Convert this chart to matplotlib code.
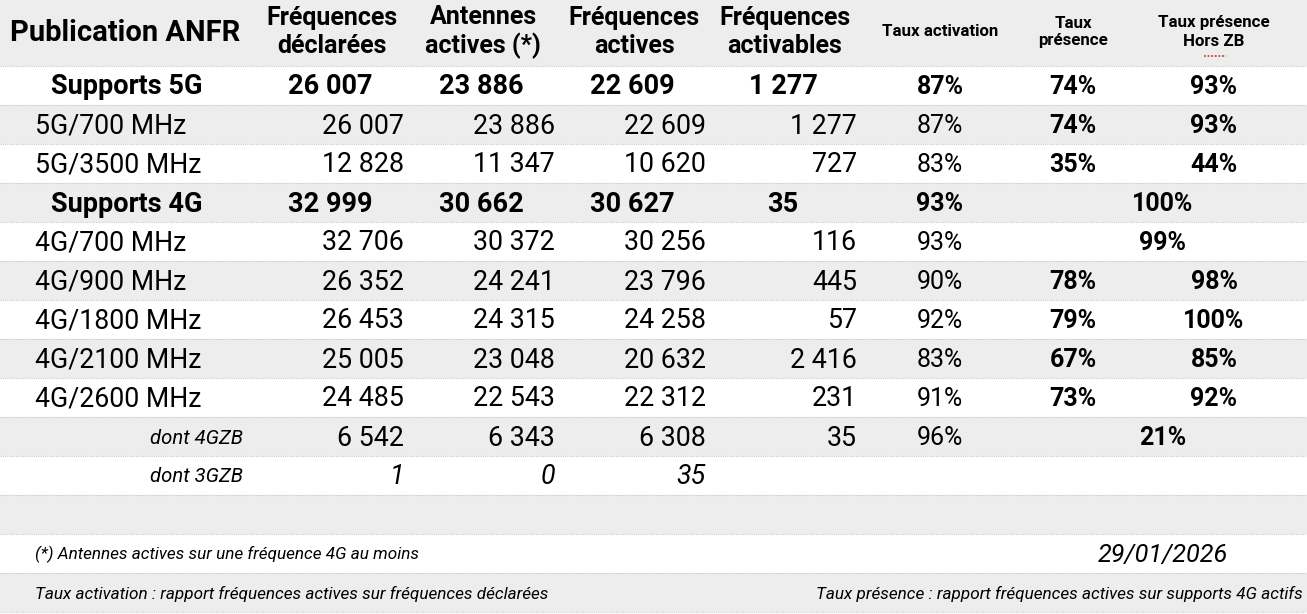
import matplotlib.pyplot as plt
import matplotlib.patches as mpatches

plt.rcParams['font.family'] = ['Roboto', 'DejaVu Sans']

# --- data ---
row_labels = ['Supports 5G', '5G/700 MHz', '5G/3500 MHz', 'Supports 4G', '4G/700 MHz',
              '4G/900 MHz', '4G/1800 MHz', '4G/2100 MHz', '4G/2600 MHz', 'dont 4GZB', 'dont 3GZB']
row_kind = ['total', 'band', 'band', 'total', 'band', 'band', 'band', 'band', 'band', 'sub', 'sub']
freq_declarees = [26007, 26007, 12828, 32999, 32706, 26352, 26453, 25005, 24485, 6542, 1]
antennes_actives = [23886, 23886, 11347, 30662, 30372, 24241, 24315, 23048, 22543, 6343, 0]
freq_actives = [22609, 22609, 10620, 30627, 30256, 23796, 24258, 20632, 22312, 6308, 35]
freq_activables = [1277, 1277, 727, 35, 116, 445, 57, 2416, 231, 35, None]
taux_activation = [87, 87, 83, 93, 93, 90, 92, 83, 91, 96, None]
taux_presence = [74, 74, 35, None, None, 78, 79, 67, 73, None, None]
taux_hors_zb = [93, 93, 44, 100, 99, 98, 100, 85, 92, 21, None]
# rows where presence / hors ZB share one merged cell
merged = [False, False, False, True, True, False, False, False, False, True, False]

headers = ['Publication ANFR', 'Fréquences\ndéclarées', 'Antennes\nactives (*)',
           'Fréquences\nactives', 'Fréquences\nactivables', 'Taux activation',
           'Taux\nprésence', 'Taux présence\nHors ZB']
note_star = '(*) Antennes actives sur une fréquence 4G au moins'
note_date = '29/01/2026'
note_activation = 'Taux activation : rapport fréquences actives sur fréquences déclarées'
note_presence = 'Taux présence : rapport fréquences actives sur supports 4G actifs'

# --- layout (pixels) ---
W, H = 1307, 614
header_h = 66
row_h = 39
gray = '#ededed'
col_center = [127, 330, 481, 632, 783, 940, 1073, 1214]
col_right = [None, 404, 555, 706, 857]
label_left = 35
sub_right = 243
merged_center = 1163
fs_num = 19.3
fs_pct = 18


def fmt(v):
    return f'{v:,}'.replace(',', ' ')


fig = plt.figure(figsize=(W / 100, H / 100), dpi=100)
ax = fig.add_axes([0, 0, 1, 1])
ax.set_xlim(0, W)
ax.set_ylim(H, 0)
ax.axis('off')

n_rows = len(row_labels) + 3
tops = [0] + [header_h + i * row_h for i in range(n_rows)]
heights = [header_h] + [row_h] * n_rows
for i, (t, h) in enumerate(zip(tops, heights)):
    ax.add_patch(mpatches.Rectangle((0, t), W, h, color=gray if i % 2 == 0 else 'white', lw=0))
    if i > 0:
        ax.plot([0, W], [t, t], color='#c9c9c9', lw=0.8, ls=(0, (1, 1)))
ax.plot([0, W], [tops[-1] + row_h] * 2, color='#c9c9c9', lw=0.8, ls=(0, (1, 1)))

# header
ax.text(10, 33, headers[0], fontsize=21, fontweight='bold', ha='left', va='center')
for j in range(1, 5):
    ax.text(col_center[j] + 2, 32, headers[j], fontsize=18, fontweight='bold', ha='center',
            va='center', linespacing=1.2)
for j in range(5, 8):
    ax.text(col_center[j], 32, headers[j], fontsize=12.2, fontweight='bold', ha='center',
            va='center', linespacing=1.25)
# spell-check squiggle under "ZB"
ax.plot([1204, 1226], [56, 56], color='#d04040', lw=1.3, ls=(0, (1, 1)))

# body
for i, lab in enumerate(row_labels):
    yc = header_h + i * row_h + row_h / 2 + 1.5
    kind = row_kind[i]
    if kind == 'total':
        ax.text(col_center[0], yc, lab, fontsize=19.5, fontweight='bold', ha='center', va='center')
    elif kind == 'band':
        ax.text(label_left, yc, lab, fontsize=19.2, ha='left', va='center')
    else:
        ax.text(sub_right, yc, lab, fontsize=14.6, style='italic', ha='right', va='center')

    nums = [freq_declarees[i], antennes_actives[i], freq_actives[i], freq_activables[i]]
    for j, v in enumerate(nums, start=1):
        if v is None:
            continue
        if kind == 'total':
            ax.text(col_center[j], yc, fmt(v), fontsize=19.5, fontweight='bold', ha='center', va='center')
        elif i == len(row_labels) - 1:
            ax.text(col_right[j], yc, fmt(v), fontsize=fs_num, style='italic', ha='right', va='center')
        else:
            ax.text(col_right[j], yc, fmt(v), fontsize=fs_num, ha='right', va='center')

    if taux_activation[i] is not None:
        ax.text(col_center[5], yc, f'{taux_activation[i]}%', fontsize=fs_pct,
                fontweight='bold' if kind == 'total' else 'normal', ha='center', va='center')
    if merged[i]:
        ax.text(merged_center, yc, f'{taux_hors_zb[i]}%', fontsize=fs_pct, fontweight='bold',
                ha='center', va='center')
    else:
        if taux_presence[i] is not None:
            ax.text(col_center[6], yc, f'{taux_presence[i]}%', fontsize=fs_pct, fontweight='bold',
                    ha='center', va='center')
        if taux_hors_zb[i] is not None:
            ax.text(col_center[7], yc, f'{taux_hors_zb[i]}%', fontsize=fs_pct, fontweight='bold',
                    ha='center', va='center')

# footnotes
y_star = tops[-2] + row_h / 2 + 1
y_last = tops[-1] + row_h / 2 + 1
ax.text(35, y_star, note_star, fontsize=12.3, style='italic', ha='left', va='center')
ax.text(1228, y_star, note_date, fontsize=18.2, style='italic', ha='right', va='center')
ax.text(35, y_last, note_activation, fontsize=12.3, style='italic', ha='left', va='center')
ax.text(1303, y_last, note_presence, fontsize=12.3, style='italic', ha='right', va='center')

fig.savefig('out.png', dpi=100)
